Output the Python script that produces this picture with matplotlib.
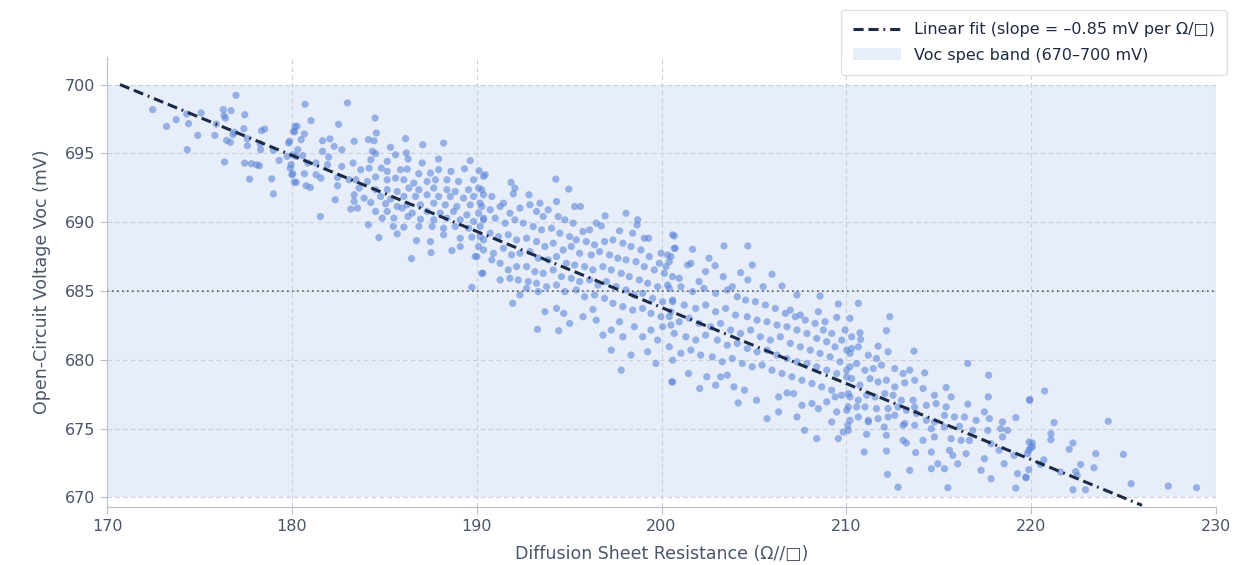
import numpy as np
import matplotlib
matplotlib.use("Agg")
import matplotlib.pyplot as plt
from matplotlib.patches import Patch
from matplotlib.lines import Line2D

# sheet resistance (ohm/sq) and Voc (mV), left to right
res_1 = [172.47, 173.22, 173.74, 174.31, 174.41, 174.34, 174.91, 175.09, 175.83, 175.91,
         176.29, 176.33, 176.40, 176.71, 176.98, 177.45, 176.36, 176.47, 176.67, 176.81,
         176.90, 177.40, 177.59, 177.59, 177.45, 177.81, 177.71, 178.24, 178.10, 178.31,
         178.36, 178.53, 178.28, 179.00, 178.91, 179.00, 179.31, 179.74, 179.83, 179.91,
         180.00, 180.09, 180.17, 180.14, 180.22]
voc_1 = [698.18, 696.96, 697.45, 697.86, 697.16, 695.27, 696.31, 697.94, 696.31, 697.13,
         698.18, 697.74, 697.57, 698.11, 699.22, 697.81, 694.37, 695.94, 695.80, 696.36,
         696.53, 696.79, 696.07, 695.56, 694.29, 694.25, 693.13, 694.10, 694.17, 695.27,
         696.65, 696.77, 695.70, 695.22, 693.15, 692.06, 694.49, 694.78, 695.75, 693.93,
         693.45, 696.60, 696.96, 692.91, 694.78]

res_2 = [180.71, 183.01, 184.50, 181.04, 182.53, 180.28, 180.14, 180.68, 184.57, 179.87,
         180.50, 181.66, 182.06, 182.29, 182.70, 183.37, 184.14, 184.45, 186.15, 187.08,
         188.21, 185.34, 184.36, 184.53, 186.19, 185.61, 184.27, 185.16, 186.29, 187.05,
         187.94, 189.65, 180.32, 180.05, 180.59, 181.66, 181.99, 179.96, 180.86, 181.30,
         181.93, 182.70, 183.31, 183.73, 184.18, 184.84, 185.16, 185.88, 186.24, 186.87,
         187.50, 187.94, 188.61, 189.34, 190.13, 180.05, 180.68, 181.31, 181.57, 182.47,
         183.10, 183.46, 184.09, 184.53, 185.16, 185.61, 186.06, 186.60, 187.32, 187.77,
         188.39, 189.02, 189.83, 190.37, 180.23, 180.77, 181.00, 182.47, 183.64, 184.53,
         185.16, 185.70, 186.33, 186.87, 187.68, 188.39, 188.84, 189.56, 190.10, 183.37,
         183.91, 184.80, 185.34, 186.06, 186.69, 187.32, 187.94, 188.57, 189.29, 189.83,
         190.37, 182.35, 183.37, 184.27, 185.07, 185.70, 186.24, 186.96, 187.68, 188.30,
         188.93, 189.65, 190.28, 183.19, 183.55, 184.53, 185.16, 185.97, 186.51, 187.32,
         188.03, 188.75, 189.47, 190.10, 181.54, 184.89, 185.52, 186.28, 186.96, 187.68,
         188.39, 189.11, 189.83, 190.37, 184.14, 185.49, 186.06, 186.87, 187.59, 188.21,
         188.84, 189.56, 190.19, 184.71, 185.70, 186.74, 187.50, 188.21, 189.11, 189.74,
         190.37, 187.53, 188.66, 189.11, 190.10, 186.47, 189.92, 190.33, 189.74]
voc_2 = [698.57, 698.67, 697.57, 697.38, 697.11, 696.97, 696.56, 696.41, 696.48, 695.88,
         696.00, 695.92, 696.05, 695.51, 695.27, 695.88, 696.00, 695.92, 696.07, 695.63,
         695.75, 695.44, 695.15, 694.98, 695.03, 694.90, 694.54, 694.42, 694.59, 694.30,
         694.59, 694.47, 695.27, 694.90, 694.83, 695.15, 694.73, 694.18, 694.30, 694.30,
         694.18, 694.05, 694.30, 693.81, 693.93, 693.93, 693.69, 693.81, 693.86, 693.52,
         693.57, 693.81, 693.69, 693.88, 693.74, 693.52, 693.52, 693.45, 693.20, 693.25,
         693.08, 693.08, 692.96, 693.28, 693.08, 693.20, 693.08, 692.84, 692.96, 693.08,
         693.08, 692.96, 693.08, 693.33, 692.89, 692.65, 692.52, 692.65, 692.48, 692.36,
         692.36, 692.23, 692.48, 692.36, 692.48, 692.36, 692.23, 692.36, 692.48, 691.99,
         691.75, 691.87, 691.68, 691.87, 691.87, 691.99, 691.87, 691.87, 691.75, 691.87,
         691.99, 691.63, 691.51, 691.43, 691.34, 691.14, 691.26, 691.26, 691.38, 691.26,
         691.14, 691.26, 691.14, 690.95, 691.02, 690.78, 690.78, 691.02, 690.66, 690.78,
         690.66, 690.78, 690.53, 690.66, 690.41, 690.29, 690.29, 690.41, 690.22, 690.17,
         690.29, 690.17, 690.05, 690.29, 689.81, 689.69, 689.64, 689.69, 689.69, 689.56,
         689.69, 689.56, 689.69, 688.88, 689.15, 688.66, 688.59, 689.08, 688.83, 688.91,
         688.71, 687.79, 687.94, 688.23, 688.23, 687.35, 687.50, 686.29, 685.27]

res_3 = [190.46, 194.28, 191.86, 192.07, 194.98, 191.98, 192.83, 190.82, 190.28, 191.45,
         193.42, 194.32, 195.30, 195.61, 196.95, 198.08, 198.71, 198.68, 196.47, 196.74,
         197.73, 198.44, 199.07, 199.30, 200.60, 200.69, 199.97, 200.33, 190.19, 190.73,
         191.27, 191.80, 192.34, 192.88, 193.24, 193.60, 193.87, 194.41, 194.77, 195.22,
         195.75, 196.11, 190.37, 191.00, 191.54, 192.07, 192.52, 193.06, 193.51, 194.05,
         194.50, 195.03, 195.39, 195.93, 196.38, 196.92, 197.37, 197.91, 198.35, 198.89,
         199.34, 199.88, 200.42, 190.19, 190.73, 191.18, 191.71, 192.16, 192.70, 193.24,
         193.69, 194.14, 194.68, 195.12, 195.57, 196.20, 196.65, 197.19, 197.64, 198.08,
         198.62, 199.07, 199.61, 200.15, 200.60, 190.37, 190.91, 191.45, 191.89, 192.34,
         192.88, 193.33, 193.87, 194.32, 194.85, 195.30, 195.84, 196.29, 196.83, 197.28,
         197.82, 198.26, 198.80, 199.25, 199.79, 200.33, 190.01, 190.82, 190.28, 191.27,
         191.71, 192.16, 192.70, 193.15, 193.60, 194.14, 194.59, 195.12, 195.57, 196.11,
         196.56, 197.01, 197.55, 198.08, 198.53, 198.98, 199.52, 200.06, 200.60, 191.27,
         191.80, 192.25, 192.79, 193.24, 193.78, 194.32, 194.77, 195.39, 195.84, 196.38,
         196.92, 197.37, 197.91, 198.44, 198.98, 199.43, 199.97, 200.51, 191.95, 192.34,
         192.70, 193.33, 193.69, 194.32, 194.71, 195.03, 195.75, 196.29, 196.47, 196.83,
         197.28, 197.28, 197.73, 197.91, 198.35, 198.53, 198.98, 199.25, 199.43, 199.79,
         200.06, 200.51, 199.70, 200.60, 193.29, 194.44, 197.82, 200.56]
voc_3 = [693.45, 693.13, 692.89, 692.47, 692.40, 692.06, 691.99, 691.87, 692.35, 691.38,
         691.38, 691.50, 691.14, 691.14, 690.46, 690.65, 690.17, 689.80, 689.93, 689.73,
         689.37, 689.20, 688.83, 688.83, 689.08, 688.10, 687.74, 687.62, 691.38, 690.90,
         691.14, 690.65, 691.02, 691.26, 690.78, 690.41, 690.90, 690.41, 690.17, 689.93,
         689.32, 689.44, 690.17, 690.29, 689.93, 690.17, 689.93, 689.68, 689.44, 689.56,
         689.20, 688.95, 688.71, 688.59, 688.35, 688.59, 688.71, 688.47, 688.23, 687.98,
         687.50, 687.01, 687.13, 688.95, 689.20, 688.95, 689.08, 688.71, 688.83, 688.59,
         688.23, 688.47, 687.98, 688.23, 687.74, 687.62, 687.86, 687.62, 687.38, 687.26,
         687.13, 686.77, 686.53, 686.28, 686.04, 687.98, 687.74, 688.10, 687.62, 687.74,
         687.86, 687.38, 687.26, 687.50, 687.01, 686.89, 686.77, 686.53, 686.77, 686.53,
         686.28, 686.04, 685.80, 685.56, 685.31, 685.43, 687.50, 687.26, 686.28, 687.01,
         686.53, 686.77, 686.77, 686.40, 686.28, 686.53, 686.04, 685.92, 685.68, 685.80,
         685.43, 685.68, 685.31, 685.07, 684.71, 684.83, 684.46, 684.22, 684.34, 685.80,
         685.92, 685.80, 685.68, 685.56, 685.31, 685.43, 684.95, 685.07, 684.58, 684.71,
         684.46, 684.10, 683.86, 683.61, 683.73, 683.37, 683.13, 683.49, 684.10, 684.71,
         685.19, 684.95, 683.49, 683.73, 683.37, 682.64, 683.13, 683.66, 682.88, 681.79,
         682.16, 680.70, 682.76, 681.67, 680.34, 682.40, 681.67, 680.58, 682.16, 681.43,
         682.40, 682.52, 679.73, 679.97, 682.21, 682.11, 679.24, 678.39]

res_4 = [200.69, 203.38, 204.67, 200.74, 201.68, 200.51, 202.57, 201.41, 201.59, 202.90,
         204.91, 200.24, 202.39, 204.28, 205.98, 203.34, 204.67, 200.96, 202.03, 203.83,
         206.52, 205.50, 207.33, 208.58, 209.57, 206.97, 207.51, 208.49, 209.48, 208.85,
         210.20, 209.93, 210.29, 200.42, 201.05, 201.68, 202.30, 202.93, 203.56, 204.10,
         204.55, 205.08, 205.62, 206.16, 206.70, 207.24, 207.78, 208.31, 208.76, 209.21,
         209.75, 210.29, 200.60, 201.23, 201.85, 202.39, 202.93, 203.47, 204.01, 204.64,
         205.17, 205.71, 206.25, 206.79, 207.33, 207.87, 208.40, 208.94, 209.39, 210.02,
         200.42, 200.96, 201.50, 202.03, 202.66, 203.20, 203.74, 204.28, 204.82, 205.35,
         205.89, 206.43, 206.97, 207.51, 208.05, 208.58, 209.12, 209.66, 210.20, 200.69,
         201.32, 201.85, 202.39, 203.02, 203.56, 204.10, 204.64, 205.17, 205.71, 206.25,
         206.79, 207.33, 207.87, 208.40, 208.94, 209.48, 210.02, 200.42, 201.05, 201.59,
         202.12, 202.75, 203.29, 203.83, 204.37, 204.91, 205.44, 205.98, 206.52, 207.06,
         207.60, 208.14, 208.67, 209.21, 209.75, 200.60, 201.46, 202.07, 202.45, 202.93,
         203.20, 203.56, 203.92, 204.49, 204.15, 205.14, 205.71, 206.34, 206.34, 206.79,
         207.15, 207.33, 207.60, 207.74, 208.14, 208.40, 208.49, 208.94, 209.21, 209.39,
         209.48, 209.57, 209.84, 210.07, 210.20, 210.02]
voc_4 = [689.00, 688.27, 688.27, 688.10, 688.03, 687.50, 687.38, 686.89, 687.01, 686.84,
         686.89, 686.77, 686.41, 686.33, 686.21, 686.04, 685.80, 685.92, 685.68, 685.31,
         685.36, 685.31, 684.71, 684.63, 684.05, 683.61, 683.25, 683.49, 683.08, 682.76,
         683.01, 682.16, 680.82, 685.19, 685.31, 684.95, 685.19, 684.83, 685.07, 684.58,
         684.34, 684.22, 683.98, 683.73, 683.37, 683.13, 682.88, 682.64, 682.16, 681.91,
         681.43, 681.67, 684.22, 683.98, 683.73, 683.98, 683.49, 683.73, 683.25, 683.13,
         682.88, 682.76, 682.52, 682.40, 682.16, 681.91, 681.55, 681.31, 680.94, 680.70,
         683.13, 682.76, 683.01, 682.64, 682.40, 682.64, 682.16, 681.91, 682.16, 681.67,
         681.43, 681.67, 681.19, 680.94, 680.70, 680.46, 680.21, 679.85, 679.49, 681.91,
         681.67, 681.43, 681.79, 681.43, 681.06, 681.19, 680.82, 680.58, 680.70, 680.34,
         680.09, 679.85, 679.73, 679.49, 679.24, 679.00, 678.76, 680.94, 680.46, 680.70,
         680.34, 680.21, 679.85, 680.09, 679.73, 679.49, 679.61, 679.24, 679.00, 678.76,
         678.51, 678.27, 678.03, 677.79, 677.42, 678.39, 679.00, 677.91, 678.76, 678.15,
         678.76, 678.88, 678.03, 677.79, 676.86, 677.06, 675.72, 677.30, 676.21, 677.59,
         677.54, 675.84, 676.69, 674.87, 676.82, 674.27, 676.45, 676.94, 675.48, 677.30,
         676.21, 674.27, 674.75, 675.24, 677.30, 676.33]

res_5 = [210.65, 212.35, 212.17, 210.74, 210.77, 211.72, 213.66, 212.26, 216.57, 217.70,
         210.20, 210.65, 211.19, 211.63, 210.02, 210.56, 211.01, 211.46, 211.90, 212.62,
         213.07, 213.43, 214.24, 210.29, 210.74, 211.28, 211.72, 212.17, 212.62, 213.16,
         213.70, 214.15, 215.40, 217.68, 219.92, 210.11, 210.65, 211.10, 211.55, 212.08,
         212.53, 212.98, 213.61, 214.77, 215.67, 210.11, 210.56, 211.01, 211.63, 212.26,
         212.80, 213.25, 213.70, 214.33, 214.86, 215.40, 216.57, 217.47, 210.20, 210.65,
         211.19, 211.72, 212.26, 212.62, 213.16, 213.79, 214.33, 214.77, 215.31, 215.85,
         216.39, 217.02, 217.74, 218.45, 219.17, 210.11, 211.19, 212.05, 213.07, 213.70,
         214.60, 215.31, 216.12, 216.84, 217.65, 218.36, 218.72, 211.10, 212.17, 213.07,
         213.25, 214.15, 214.77, 215.67, 216.21, 216.66, 217.83, 218.45, 219.89, 220.07,
         210.97, 212.17, 213.75, 214.60, 215.58, 215.76, 216.48, 217.47, 218.27, 219.08,
         219.80, 212.23, 213.43, 214.60, 214.95, 215.31, 216.03, 217.29, 217.83, 218.54,
         219.26, 219.71, 212.80, 215.49, 219.17]
voc_5 = [684.10, 683.13, 682.11, 681.96, 681.48, 680.99, 680.63, 680.58, 679.73, 678.88,
         680.46, 680.94, 680.33, 680.09, 679.24, 679.73, 679.24, 679.36, 679.61, 679.36,
         679.00, 679.24, 679.05, 678.63, 678.15, 678.63, 678.39, 678.51, 678.03, 678.32,
         678.51, 677.91, 677.98, 677.30, 677.11, 677.54, 677.06, 677.42, 677.30, 677.54,
         677.42, 677.06, 677.06, 677.42, 677.30, 676.57, 676.57, 676.57, 676.45, 676.45,
         676.57, 676.33, 676.57, 676.69, 676.81, 676.57, 676.77, 676.21, 675.60, 675.84,
         675.60, 675.72, 675.84, 675.96, 675.36, 676.09, 675.60, 675.48, 675.96, 675.84,
         675.84, 675.60, 675.72, 675.48, 675.79, 674.87, 675.48, 675.11, 675.24, 675.24,
         674.99, 675.11, 675.16, 674.87, 674.87, 674.99, 674.87, 674.58, 674.51, 674.14,
         673.95, 674.14, 674.39, 674.26, 674.14, 674.14, 673.90, 674.39, 674.02, 673.66,
         673.29, 673.37, 673.25, 673.29, 673.42, 673.05, 673.17, 672.81, 673.42, 673.05,
         673.17, 671.67, 671.96, 672.08, 672.44, 672.08, 672.44, 671.96, 671.35, 672.44,
         671.72, 671.47, 670.74, 670.70, 670.67]

res_6 = [220.73, 219.92, 221.24, 224.17, 221.07, 221.07, 222.26, 220.06, 219.87, 219.96,
         222.06, 223.50, 224.99, 222.68, 220.69, 220.50, 223.40, 219.87, 221.59, 222.41,
         222.49, 219.73, 225.41, 227.42, 228.95, 222.26, 222.94]
voc_6 = [677.73, 677.05, 675.43, 675.53, 674.63, 674.19, 673.95, 673.95, 673.41, 673.61,
         673.49, 673.17, 673.12, 672.39, 672.73, 672.39, 672.15, 672.01, 671.84, 671.88,
         671.59, 671.42, 670.99, 670.82, 670.70, 670.55, 670.55]

# fitted line as drawn on the chart
fit_range = [170.7, 226.0]
fit_slope = -0.553
fit_intercept = 794.4

spec_lo, spec_hi = 670, 700
voc_target = 685

sheet_res = np.array(res_1 + res_2 + res_3 + res_4 + res_5 + res_6)
voc = np.array(voc_1 + voc_2 + voc_3 + voc_4 + voc_5 + voc_6)

text_col = "#4a5568"
band_col = "#e7edf9"
fit_style = (0, (3.3, 1.6, 3.3, 1.6, 0.6, 1.6))

fig = plt.figure(figsize=(12.39, 5.65), dpi=100)
ax = fig.add_axes([0.0864, 0.1027, 0.8950, 0.7963])

ax.axhspan(spec_lo, spec_hi, color=band_col, zorder=0, lw=0)
ax.set_axisbelow(True)
ax.grid(True, linestyle=(0, (4, 3)), color="#c9d0dc", lw=0.8)

ax.scatter(sheet_res, voc, s=27, color="#5b84d8", alpha=0.58, edgecolors="none", zorder=2)

fx = np.array(fit_range)
ax.plot(fx, fit_slope * fx + fit_intercept, color="#1b2a47", lw=2.2,
        linestyle=fit_style, zorder=3)
ax.axhline(voc_target, color="#5a6272", lw=1.2, linestyle=(0, (1, 2)), zorder=2.5)

ax.set_xlim(170, 230)
ax.set_ylim(669.3, 702.0)
ax.set_xticks([170, 180, 190, 200, 210, 220, 230])
ax.set_yticks([670, 675, 680, 685, 690, 695, 700])

for s in ["top", "right"]:
    ax.spines[s].set_visible(False)
for s in ["left", "bottom"]:
    ax.spines[s].set_color("#b7bfcc")
ax.tick_params(colors=text_col, labelsize=11.5, length=5, color="#b7bfcc")

ax.set_xlabel("Diffusion Sheet Resistance (Ω//□)", fontsize=12.5, color=text_col, labelpad=8)
ax.set_ylabel("Open-Circuit Voltage Voc (mV)", fontsize=12.5, color=text_col, labelpad=10)

handles = [Line2D([0], [0], color="#1b2a47", lw=2.2, linestyle=fit_style),
           Patch(facecolor=band_col, edgecolor="none")]
labels = ["Linear fit (slope = \u20130.85 mV per \u03a9/\u25a1)", "Voc spec band (670\u2013700 mV)"]
leg = fig.legend(handles, labels, loc="upper right", bbox_to_anchor=(0.990, 0.982),
                 fontsize=11.5, frameon=True, borderaxespad=0, handlelength=3.0,
                 handletextpad=0.8, labelspacing=0.65, borderpad=0.75)
leg.get_frame().set_edgecolor("#d5dae3")
for t in leg.get_texts():
    t.set_color("#1f2a40")

fig.savefig("out.png", dpi=100, facecolor="white")
